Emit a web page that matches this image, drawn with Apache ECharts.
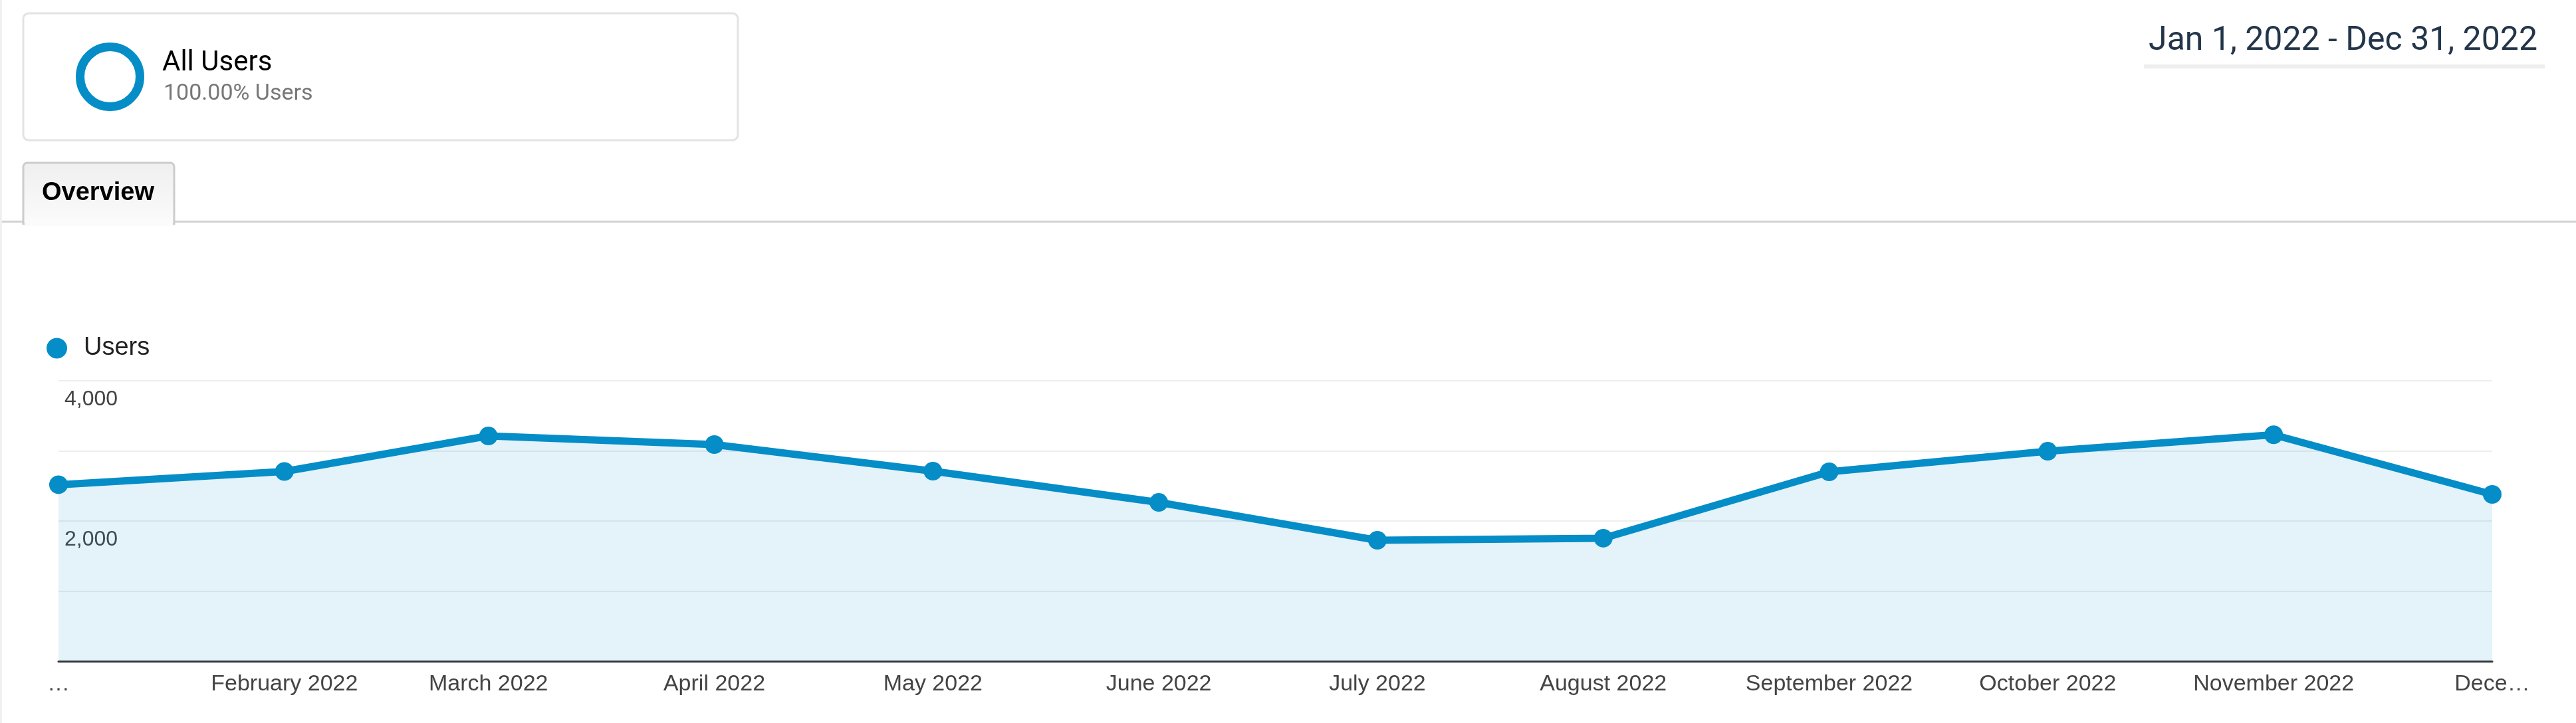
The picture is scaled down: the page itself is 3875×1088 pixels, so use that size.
<!DOCTYPE html>
<html>
<head>
<meta charset="utf-8">
<script src="https://cdn.jsdelivr.net/npm/echarts@6/dist/echarts.min.js"></script>
<style>
html,body{margin:0;padding:0;background:#fff;}
#c{width:3875px;height:1088px;}
</style>
</head>
<body>
<div id="c"></div>
<script>
// ---- data ----
const dates = ['2022-01-01','2022-02-01','2022-03-01','2022-04-01','2022-05-01','2022-06-01',
               '2022-07-01','2022-08-01','2022-09-01','2022-10-01','2022-11-01','2022-12-01'];
const users = [2517, 2706, 3213, 3090, 2711, 2265, 1725, 1754, 2701, 2995, 3230, 2379];
const xTickLabels = ['…','February 2022','March 2022','April 2022','May 2022','June 2022',
                     'July 2022','August 2022','September 2022','October 2022','November 2022','Dece…'];
const yLabelValues = [2000, 4000];
const seriesName = 'Users';
const segmentTitle = 'All Users';
const segmentSub = '100.00% Users';
const dateRange = 'Jan 1, 2022 - Dec 31, 2022';
const tabLabel = 'Overview';

// ---- chart ----
const chart = echarts.init(document.getElementById('c'), null, {renderer: 'canvas'});
const DAY = 86400000;
const t0 = Date.UTC(2022, 0, 1);
function dayIndex(s) {
  const p = s.split('-').map(Number);
  return Math.round((Date.UTC(p[0], p[1] - 1, p[2]) - t0) / DAY);
}
const xDays = dates.map(dayIndex);
const BLUE = '#058dc7';
const ARIAL = '"Liberation Sans", Arial, sans-serif';

const option = {
  backgroundColor: '#ffffff',
  animation: false,
  textStyle: {fontFamily: ARIAL},
  grid: {left: 88, right: 126, top: 573, bottom: 93, containLabel: false},
  legend: {
    data: [seriesName],
    left: 65, top: 500,
    icon: 'circle',
    itemWidth: 31, itemHeight: 31,
    textStyle: {fontSize: 38, color: '#222', fontFamily: ARIAL, padding: [0, 0, 0, 20]}
  },
  xAxis: {
    type: 'value',
    min: xDays[0],
    max: xDays[xDays.length - 1],
    axisLine: {show: true, lineStyle: {color: '#333', width: 3}},
    axisTick: {show: false},
    splitLine: {show: false},
    axisLabel: {
      customValues: xDays,
      fontSize: 34,
      color: '#444',
      fontFamily: ARIAL,
      margin: 18,
      hideOverlap: false,
      showMinLabel: true,
      showMaxLabel: true,
      formatter: function (value) {
        const i = xDays.indexOf(Math.round(+value));
        return i >= 0 ? xTickLabels[i] : '';
      }
    }
  },
  yAxis: {
    type: 'value',
    min: 0, max: 4000, interval: 1000,
    axisLine: {show: false},
    axisTick: {show: false},
    splitLine: {show: true, lineStyle: {color: '#eeeeee', width: 2}},
    axisLabel: {
      inside: true,
      margin: 9,
      verticalAlign: 'top',
      padding: [12, 0, 0, 0],
      fontSize: 32,
      color: '#444',
      fontFamily: ARIAL,
      textBorderColor: '#ffffff',
      textBorderWidth: 5,
      formatter: function (v) {
        return yLabelValues.indexOf(v) >= 0 ? v.toLocaleString('en-US') : '';
      }
    }
  },
  series: [{
    name: seriesName,
    type: 'line',
    data: xDays.map((d, i) => [d, users[i]]),
    color: BLUE,
    lineStyle: {color: BLUE, width: 11},
    symbol: 'circle',
    symbolSize: 28,
    showSymbol: true,
    showAllSymbol: true,
    itemStyle: {color: BLUE},
    areaStyle: {color: 'rgba(5,141,199,0.11)', opacity: 1},
    z: 3
  }],
  graphic: [
    {type: 'rect', shape: {x: 0, y: 0, width: 3, height: 1088}, style: {fill: '#f0f0f0'}, silent: true},
    {type: 'rect', shape: {x: 35, y: 20, width: 1075, height: 191, r: 8},
     style: {fill: '#ffffff', stroke: '#e3e3e3', lineWidth: 3}, silent: true},
    {type: 'circle', shape: {cx: 165.5, cy: 115.5, r: 45},
     style: {fill: 'none', stroke: BLUE, lineWidth: 13}, silent: true},
    {type: 'text', x: 244, y: 95,
     style: {text: segmentTitle, font: '42px Roboto', fill: '#000', textAlign: 'left', textVerticalAlign: 'middle'}, silent: true},
    {type: 'text', x: 246, y: 141,
     style: {text: segmentSub, font: '34px Roboto', fill: '#777', textAlign: 'left', textVerticalAlign: 'middle'}, silent: true},
    {type: 'text', x: 3817, y: 62,
     style: {text: dateRange, font: '50px Roboto', fill: '#23354a', textAlign: 'right', textVerticalAlign: 'middle'}, silent: true},
    {type: 'rect', shape: {x: 3225, y: 97, width: 603, height: 6}, style: {fill: '#eeeeee'}, silent: true},
    {type: 'rect', shape: {x: 3, y: 332, width: 3872, height: 3}, style: {fill: '#d2d2d2'}, silent: true},
    {type: 'rect', shape: {x: 35, y: 245, width: 227, height: 92, r: [6, 6, 0, 0]},
     style: {
       fill: new echarts.graphic.LinearGradient(0, 0, 0, 1, [
         {offset: 0, color: '#efefef'}, {offset: 1, color: '#fbfbfb'}
       ]),
       stroke: '#cccccc', lineWidth: 3
     }, silent: true},
    {type: 'rect', shape: {x: 37, y: 330, width: 223, height: 10}, style: {fill: '#fbfbfb'}, silent: true},
    {type: 'text', x: 63, y: 291,
     style: {text: tabLabel, font: 'bold 38px "Liberation Sans", Arial, sans-serif', fill: '#000', textAlign: 'left', textVerticalAlign: 'middle'}, silent: true}
  ]
};
chart.setOption(option);
</script>
</body>
</html>
